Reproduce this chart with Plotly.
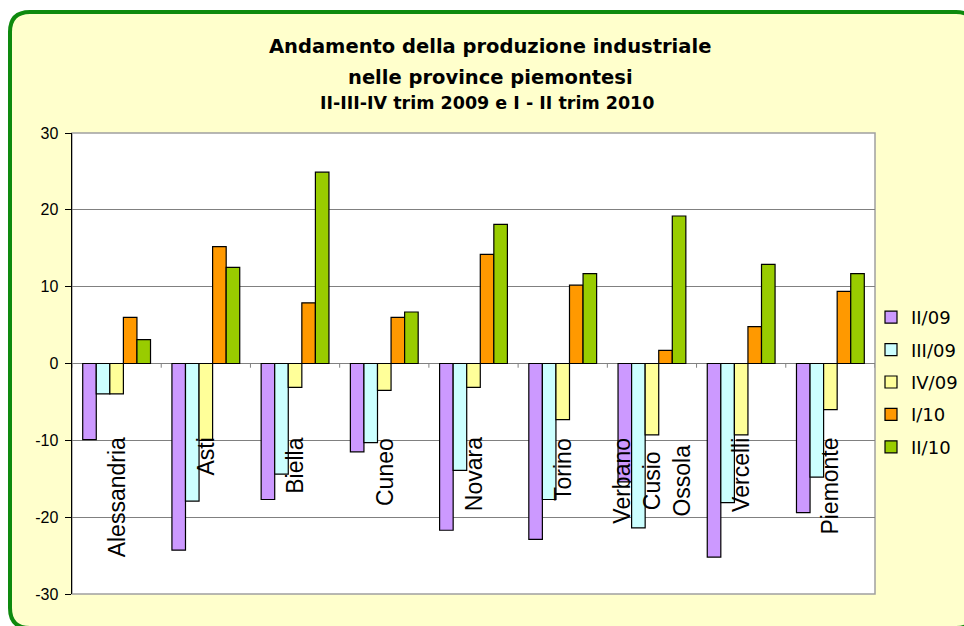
import plotly.graph_objects as go

categories = ["Alessandria", "Asti", "Biella", "Cuneo", "Novara", "Torino",
              "Verbano<br>Cusio<br>Ossola", "Vercelli", "Piemonte"]
series_names = ["II/09", "III/09", "IV/09", "I/10", "II/10"]
ii_09 = [-9.9, -24.3, -17.7, -11.5, -21.7, -22.9, -15.4, -25.2, -19.4]
iii_09 = [-3.95, -17.9, -14.4, -10.3, -13.9, -17.7, -21.4, -18.1, -14.8]
iv_09 = [-3.95, -10.0, -3.1, -3.5, -3.1, -7.3, -9.3, -9.3, -6.0]
i_10 = [6.0, 15.2, 7.9, 6.0, 14.2, 10.2, 1.7, 4.8, 9.4]
ii_10 = [3.1, 12.5, 24.9, 6.7, 18.1, 11.7, 19.2, 12.9, 11.7]
y_ticks = [-30, -20, -10, 0, 10, 20, 30]

colors = ["#CC99FF", "#CCFFFF", "#FFFF99", "#FF9900", "#99CC00"]
values = [ii_09, iii_09, iv_09, i_10, ii_10]

W, H = 964, 626
L, R, T, B = 72, 875, 133, 594

fig = go.Figure()
for name, vals, col in zip(series_names, values, colors):
    fig.add_trace(go.Bar(
        x=list(range(len(categories))), y=vals, name=name, legendgroup=name,
        marker=dict(color=col, line=dict(color="#000000", width=1.2)),
        hoverinfo="skip",
    ))

def px(x):
    return (x - L) / (R - L)

def py(y):
    return (B - y) / (B - T)

# outer rounded frame (pixel geometry converted to paper coords)
x0, y0, x1, y1, r = 10, 12, 976, 628, 20
path = (f"M {px(x0)} {py(y0 + r)} Q {px(x0)} {py(y0)} {px(x0 + r)} {py(y0)} "
        f"L {px(x1 - r)} {py(y0)} Q {px(x1)} {py(y0)} {px(x1)} {py(y0 + r)} "
        f"L {px(x1)} {py(y1 - r)} Q {px(x1)} {py(y1)} {px(x1 - r)} {py(y1)} "
        f"L {px(x0 + r)} {py(y1)} Q {px(x0)} {py(y1)} {px(x0)} {py(y1 - r)} Z")
shapes = [dict(type="path", xref="paper", yref="paper", path=path,
               fillcolor="#FFFFCC", line=dict(color="#0E8A0E", width=4), layer="below"),
          dict(type="rect", xref="paper", yref="paper", x0=0, y0=0, x1=1, y1=1,
               fillcolor="#FFFFFF", line=dict(color="#A0A0A0", width=1.5), layer="below")]
# category boundary tick marks on zero line
for i in range(len(categories) + 1):
    shapes.append(dict(type="line", xref="x", yref="y", x0=i - 0.5, x1=i - 0.5,
                       y0=0, y1=-0.55, line=dict(color="#808080", width=1)))

annotations = [
    dict(text="<b>Andamento della produzione industriale</b>", x=px(490), y=py(46),
         xref="paper", yref="paper", showarrow=False, xanchor="center", yanchor="middle",
         font=dict(family="DejaVu Sans", size=19.5, color="#000000")),
    dict(text="<b>nelle province piemontesi</b>", x=px(490), y=py(78),
         xref="paper", yref="paper", showarrow=False, xanchor="center", yanchor="middle",
         font=dict(family="DejaVu Sans", size=19.5, color="#000000")),
    dict(text="<b>II-III-IV trim 2009 e I - II trim 2010</b>", x=px(487), y=py(103),
         xref="paper", yref="paper", showarrow=False, xanchor="center", yanchor="middle",
         font=dict(family="DejaVu Sans", size=17.5, color="#000000")),
]
for i, c in enumerate(categories):
    annotations.append(dict(text=c, x=i, y=-9.4, xref="x", yref="y", showarrow=False,
                            textangle=-90, xanchor="center", yanchor="top", align="center",
                            font=dict(family="Liberation Sans", size=23, color="#000000")))

fig.update_layout(
    width=W, height=H, autosize=False,
    margin=dict(l=L, r=W - R, t=T, b=H - B, pad=0, autoexpand=False),
    paper_bgcolor="#FFFFFF", plot_bgcolor="rgba(0,0,0,0)",
    barmode="group", bargap=0.24, bargroupgap=0,
    showlegend=True, hovermode=False,
    legend=dict(x=px(871), y=py(382), xanchor="left", yanchor="middle",
                bgcolor="rgba(0,0,0,0)", traceorder="grouped", tracegroupgap=6,
                font=dict(family="DejaVu Sans", size=18, color="#000000"),
                itemwidth=30),
    xaxis=dict(range=[-0.5, len(categories) - 0.5], showticklabels=False, showgrid=False,
               zeroline=False, showline=False, ticks="", fixedrange=True),
    yaxis=dict(range=[-30, 30], tickvals=y_ticks, ticktext=[str(v) for v in y_ticks],
               showgrid=True, gridcolor="#808080", gridwidth=1,
               zeroline=True, zerolinecolor="#808080", zerolinewidth=1,
               showline=True, linecolor="#000000", linewidth=1.5, fixedrange=True,
               ticks="outside", ticklen=6, tickcolor="#000000", ticklabelstandoff=3,
               tickfont=dict(family="Liberation Sans", size=16, color="#000000")),
    shapes=shapes, annotations=annotations,
)

fig.write_html(
    "out.html",
    config={"responsive": False, "displayModeBar": False, "staticPlot": True},
    post_script="document.body.style.margin='0px';document.body.style.overflow='hidden';",
)
